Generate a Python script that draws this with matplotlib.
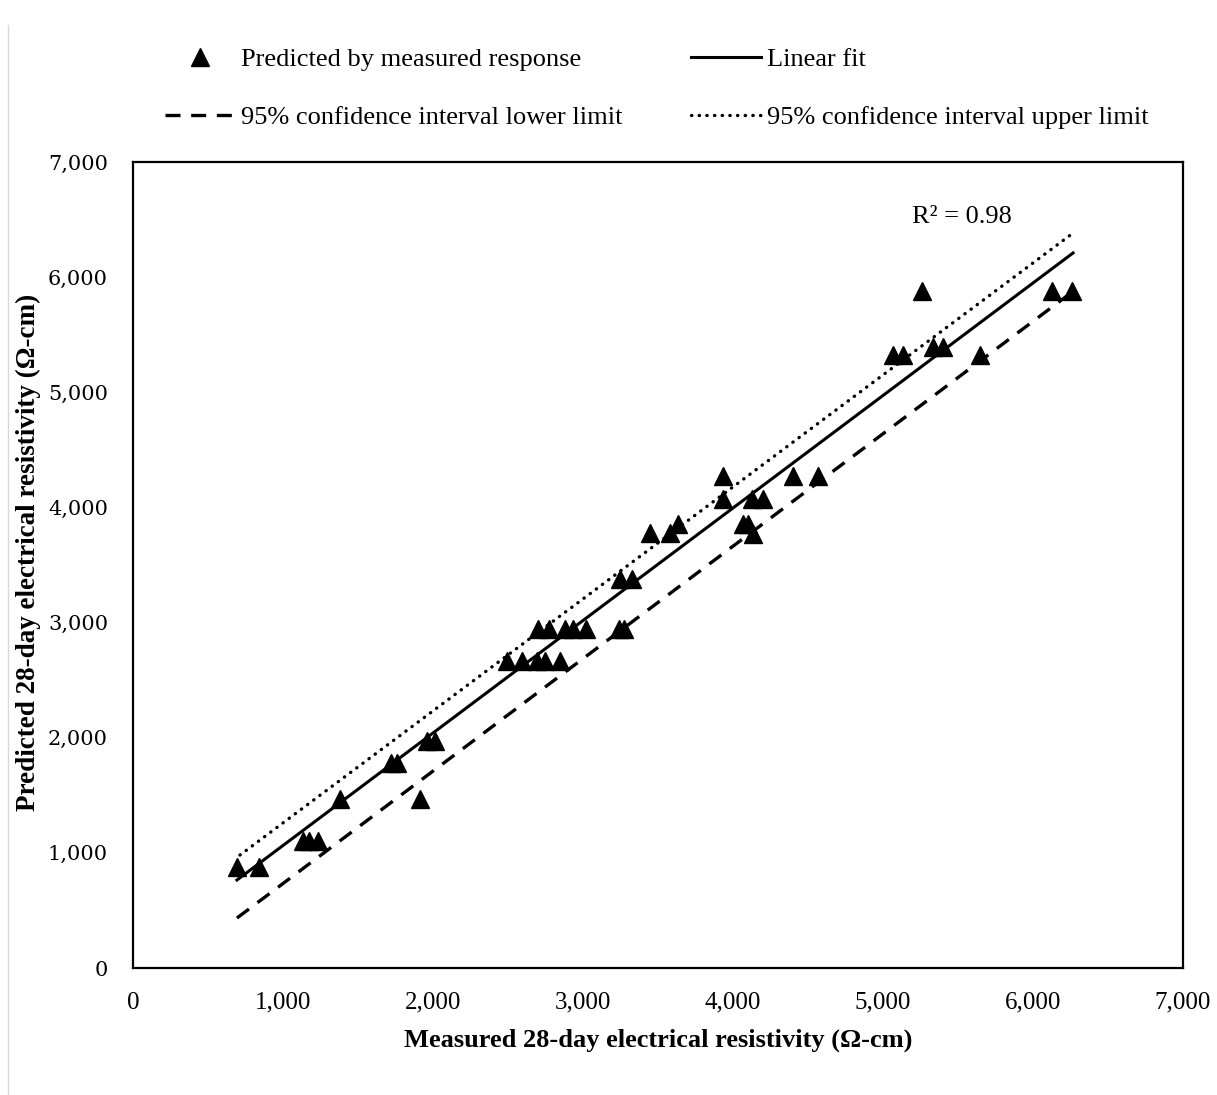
import matplotlib
matplotlib.use("Agg")
import matplotlib.pyplot as plt
from matplotlib.lines import Line2D
from matplotlib.ticker import FuncFormatter

# measured vs predicted 28-day resistivity (ohm-cm)
measured = [693, 840, 1130, 1170, 1230, 1380, 1720, 1760, 1913, 1960, 2010,
            2493, 2593, 2693, 2747, 2847, 2700, 2770, 2880, 2930, 3020, 3240, 3270,
            3247, 3327, 3447, 3580, 3633, 3933, 3933, 4067, 4100, 4133, 4127, 4200,
            4400, 4567, 5067, 5133, 5333, 5400, 5647, 5260, 6127, 6260]
predicted = [880, 880, 1100, 1100, 1100, 1470, 1780, 1780, 1470, 1970, 1970,
             2670, 2670, 2670, 2670, 2670, 2940, 2940, 2940, 2940, 2940, 2940, 2940,
             3380, 3380, 3780, 3780, 3860, 4270, 4070, 3860, 3860, 3770, 4070, 4070,
             4270, 4270, 5320, 5320, 5390, 5390, 5320, 5880, 5880, 5880]

fit_x = [693, 6267]
fit_y = [764, 6210]
lower_x = [693, 6260]
lower_y = [434, 5870]
upper_x = [713, 6267]
upper_y = [981, 6383]

ticks = [0, 1000, 2000, 3000, 4000, 5000, 6000, 7000]
r2_text = "R² = 0.98"

SERIF = "Liberation Serif"

fig = plt.figure(figsize=(12.17, 10.95), dpi=100)
ax = fig.add_axes([133/1217, 127/1095, 1050/1217, 806/1095])

ax.plot(measured, predicted, linestyle="none", marker="^", markersize=13,
        color="black", label="Predicted by measured response")
ax.plot(fit_x, fit_y, color="black", lw=2.2, label="Linear fit")
ax.plot(lower_x, lower_y, color="black", lw=2.4, linestyle=(0, (4.5, 3.2)),
        label="95% confidence interval lower limit")
ax.plot(upper_x, upper_y, color="black", lw=2.4, linestyle=(0, (0.1, 2.2)),
        dash_capstyle="round", label="95% confidence interval upper limit")

ax.text(5527, 6522, r2_text, ha="center", va="center", fontsize=19, family=SERIF)

ax.set_xlim(0, 7000)
ax.set_ylim(0, 7000)
ax.set_xticks(ticks)
ax.set_yticks(ticks)
fmt = FuncFormatter(lambda v, p: "{:,.0f}".format(v))
ax.xaxis.set_major_formatter(fmt)
ax.yaxis.set_major_formatter(fmt)
ax.tick_params(length=0)
ax.tick_params(axis="x", pad=17, labelsize=18, labelfontfamily=SERIF)
ax.tick_params(axis="y", pad=18, labelsize=15, labelfontfamily="DejaVu Serif")

for s in ax.spines.values():
    s.set_linewidth(1.6)

ax.set_xlabel("Measured 28-day electrical resistivity (Ω-cm)", fontsize=19,
              fontweight="bold", family=SERIF, labelpad=11)
ax.set_ylabel("Predicted 28-day electrical resistivity (Ω-cm)", fontsize=19.5,
              fontweight="bold", family=SERIF)
ax.yaxis.set_label_coords(-0.0876, 0.516)

# legend: column-first fill gives two rows of two
h, l = ax.get_legend_handles_labels()
order = [0, 2, 1, 3]
fig.legend([h[i] for i in order], [l[i] for i in order], ncol=2,
           loc="upper left", bbox_to_anchor=(165/1217, 1 - 48/1095),
           frameon=False, prop={"family": SERIF, "size": 19},
           handlelength=2.65, handletextpad=0.23, columnspacing=2.6,
           labelspacing=1.3, borderaxespad=0, borderpad=0)

# thin border line on the left edge of the canvas
fig.add_artist(Line2D([8/1217, 8/1217], [0, 1 - 25/1095], color="#d9d9d9", lw=1))

fig.savefig("out.png", dpi=100)
